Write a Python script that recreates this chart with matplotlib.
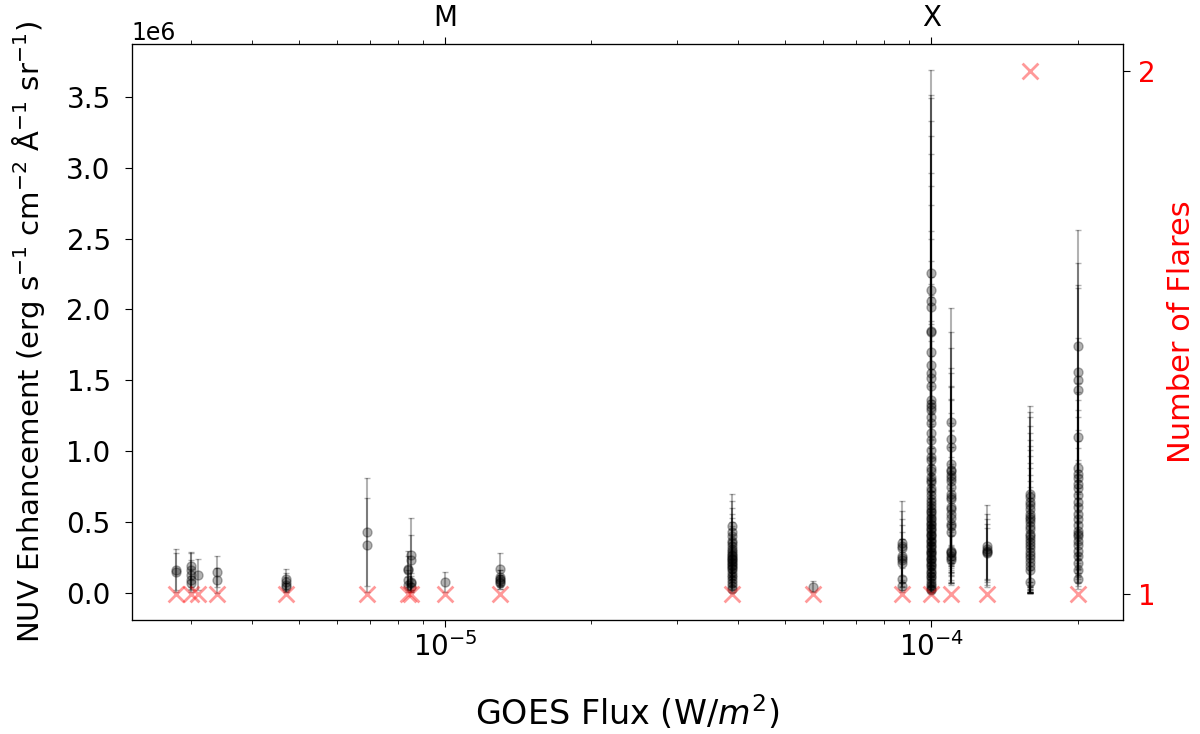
import matplotlib
matplotlib.use("Agg")
import matplotlib.pyplot as plt

# GOES flux of each flare group (W/m^2)
flare_flux = [2.8e-6, 3.0e-6, 3.1e-6, 3.4e-6, 4.7e-6, 6.9e-6, 8.4e-6, 8.5e-6, 1.0e-5,
              1.3e-5, 3.9e-5, 5.7e-5, 8.7e-5, 1.0e-4, 1.1e-4, 1.3e-4, 1.6e-4, 2.0e-4]
flare_count = [1, 1, 1, 1, 1, 1, 1, 1, 1, 1, 1, 1, 1, 1, 1, 1, 2, 1]

# NUV enhancement (units of 1e6) and errors, one list per flare group
nuv_vals = [
    [0.16, 0.15],
    [0.19, 0.16, 0.13, 0.09, 0.07],
    [0.13],
    [0.15, 0.09],
    [0.10, 0.08, 0.06, 0.04],
    [0.43, 0.34],
    [0.17, 0.16, 0.09, 0.06],
    [0.27, 0.23, 0.08, 0.07, 0.04],
    [0.08],
    [0.17, 0.11, 0.10, 0.09, 0.08, 0.07],
    [0.47, 0.43, 0.40, 0.37, 0.35, 0.33, 0.31, 0.30, 0.28, 0.27, 0.26, 0.25, 0.24, 0.23,
     0.22, 0.21, 0.20, 0.19, 0.18, 0.17, 0.15, 0.13, 0.11, 0.09, 0.07, 0.05, 0.03],
    [0.045],
    [0.35, 0.33, 0.32, 0.26, 0.25, 0.23, 0.21, 0.10, 0.05],
    [2.26, 2.14, 2.06, 2.02, 1.85, 1.84, 1.70, 1.61, 1.55, 1.52, 1.46, 1.36, 1.33, 1.31,
     1.29, 1.24, 1.20, 1.13, 1.08, 1.01, 0.96, 0.94, 0.88, 0.86, 0.82, 0.80, 0.78, 0.74,
     0.72, 0.69, 0.66, 0.64, 0.62, 0.60, 0.58, 0.57, 0.55, 0.53, 0.52, 0.50, 0.49, 0.48,
     0.46, 0.45, 0.44, 0.42, 0.41, 0.40, 0.38, 0.37, 0.36, 0.34, 0.33, 0.32, 0.30, 0.29,
     0.28, 0.27, 0.25, 0.24, 0.23, 0.21, 0.20, 0.19, 0.17, 0.15, 0.14, 0.12, 0.11, 0.09,
     0.07, 0.06, 0.04, 0.03, 0.02],
    [1.21, 1.09, 1.03, 0.91, 0.87, 0.86, 0.83, 0.81, 0.79, 0.75, 0.70, 0.68, 0.66, 0.61,
     0.59, 0.56, 0.53, 0.49, 0.47, 0.43, 0.30, 0.29, 0.28, 0.26, 0.25, 0.23],
    [0.33, 0.31, 0.30, 0.29, 0.28],
    [0.70, 0.68, 0.64, 0.62, 0.59, 0.56, 0.54, 0.52, 0.50, 0.47, 0.45, 0.42, 0.40, 0.38,
     0.36, 0.34, 0.32, 0.29, 0.27, 0.25, 0.22, 0.19, 0.16, 0.08],
    [1.74, 1.56, 1.50, 1.43, 1.10, 0.88, 0.84, 0.81, 0.77, 0.74, 0.69, 0.64, 0.61, 0.56,
     0.52, 0.48, 0.44, 0.42, 0.40, 0.37, 0.34, 0.30, 0.26, 0.21, 0.16, 0.10],
]
nuv_errs = [
    [0.15, 0.13],
    [0.10, 0.12, 0.10, 0.08, 0.05],
    [0.11],
    [0.11, 0.09],
    [0.07, 0.06, 0.05, 0.03],
    [0.38, 0.33],
    [0.13, 0.10, 0.07, 0.05],
    [0.26, 0.18, 0.06, 0.05, 0.03],
    [0.07],
    [0.11, 0.05, 0.06, 0.04, 0.05, 0.04],
    [0.23, 0.22, 0.20, 0.19, 0.18, 0.17, 0.16, 0.15, 0.14, 0.14, 0.13, 0.13, 0.12, 0.12,
     0.11, 0.11, 0.10, 0.10, 0.09, 0.09, 0.08, 0.07, 0.06, 0.05, 0.04, 0.03, 0.02],
    [0.04],
    [0.30, 0.25, 0.20, 0.22, 0.18, 0.15, 0.17, 0.08, 0.04],
    [1.43, 1.37, 1.43, 1.31, 1.37, 1.12, 1.40, 1.26, 1.00, 1.22, 1.04, 0.98, 0.85, 0.92,
     0.80, 0.86, 0.72, 0.77, 0.70, 0.66, 0.62, 0.55, 0.58, 0.50, 0.52, 0.46, 0.50, 0.44,
     0.47, 0.40, 0.42, 0.38, 0.40, 0.36, 0.37, 0.33, 0.35, 0.31, 0.33, 0.30, 0.31, 0.28,
     0.29, 0.27, 0.28, 0.25, 0.26, 0.24, 0.24, 0.22, 0.23, 0.20, 0.21, 0.19, 0.19, 0.17,
     0.18, 0.16, 0.16, 0.14, 0.15, 0.13, 0.13, 0.11, 0.11, 0.09, 0.09, 0.07, 0.07, 0.05,
     0.04, 0.04, 0.02, 0.02, 0.01],
    [0.80, 0.75, 0.70, 0.68, 0.68, 0.60, 0.62, 0.55, 0.58, 0.52, 0.50, 0.47, 0.48, 0.42,
     0.44, 0.40, 0.38, 0.36, 0.33, 0.31, 0.22, 0.20, 0.21, 0.19, 0.18, 0.17],
    [0.29, 0.25, 0.22, 0.20, 0.18],
    [0.62, 0.60, 0.60, 0.56, 0.54, 0.52, 0.50, 0.49, 0.47, 0.45, 0.43, 0.41, 0.39, 0.37,
     0.35, 0.33, 0.31, 0.29, 0.27, 0.25, 0.22, 0.19, 0.16, 0.08],
    [0.82, 0.77, 0.67, 0.72, 0.70, 0.60, 0.58, 0.55, 0.52, 0.50, 0.46, 0.43, 0.41, 0.38,
     0.35, 0.32, 0.30, 0.28, 0.27, 0.25, 0.23, 0.20, 0.18, 0.14, 0.11, 0.07],
]
class_ticks = [1e-5, 1e-4]
class_labels = ['M', 'X']

fig = plt.figure(figsize=(12, 7.34), dpi=100)
ax = fig.add_axes([0.1096, 0.1553, 0.8262, 0.7843])

for f, vals, errs in zip(flare_flux, nuv_vals, nuv_errs):
    xs = [f] * len(vals)
    ys = [v * 1e6 for v in vals]
    es = [e * 1e6 for e in errs]
    ax.errorbar(xs, ys, yerr=es, fmt='o', color='k', alpha=0.3, capsize=2, markersize=6.5)

ax.set_xscale('log')
ax.set_xlim(2.265e-6, 2.48e-4)
ax.set_ylim(-0.19e6, 3.87e6)
ax.set_xlabel('GOES Flux (W/$m^2$)', fontsize=24, labelpad=22)
ax.set_ylabel('NUV Enhancement (erg s$^{-1}$ cm$^{-2}$ Å$^{-1}$ sr$^{-1}$)', fontsize=21,
              labelpad=14)
ax.tick_params(labelsize=20, length=5)
ax.tick_params(which='minor', length=3)
ax.tick_params(axis='y', pad=10)
ax.tick_params(axis='x', pad=4)
ax.yaxis.get_offset_text().set_fontsize(17)

ax2 = ax.twinx()
ax2.scatter(flare_flux, flare_count, marker='x', color='red', alpha=0.4, s=130, linewidths=2)
ax2.set_ylim(0.95, 2.05)
ax2.set_yticks([1, 2])
ax2.tick_params(axis='y', labelcolor='red', labelsize=20, length=5, pad=6)
ax2.set_ylabel('Number of Flares', color='red', fontsize=22, labelpad=8)

ax3 = ax.twiny()
ax3.set_xscale('log')
ax3.set_xlim(ax.get_xlim())
ax3.set_xticks(class_ticks)
ax3.set_xticklabels(class_labels)
ax3.tick_params(labelsize=20, length=5, pad=4)
ax3.tick_params(which='minor', length=3)

fig.savefig('out.png', dpi=100)
